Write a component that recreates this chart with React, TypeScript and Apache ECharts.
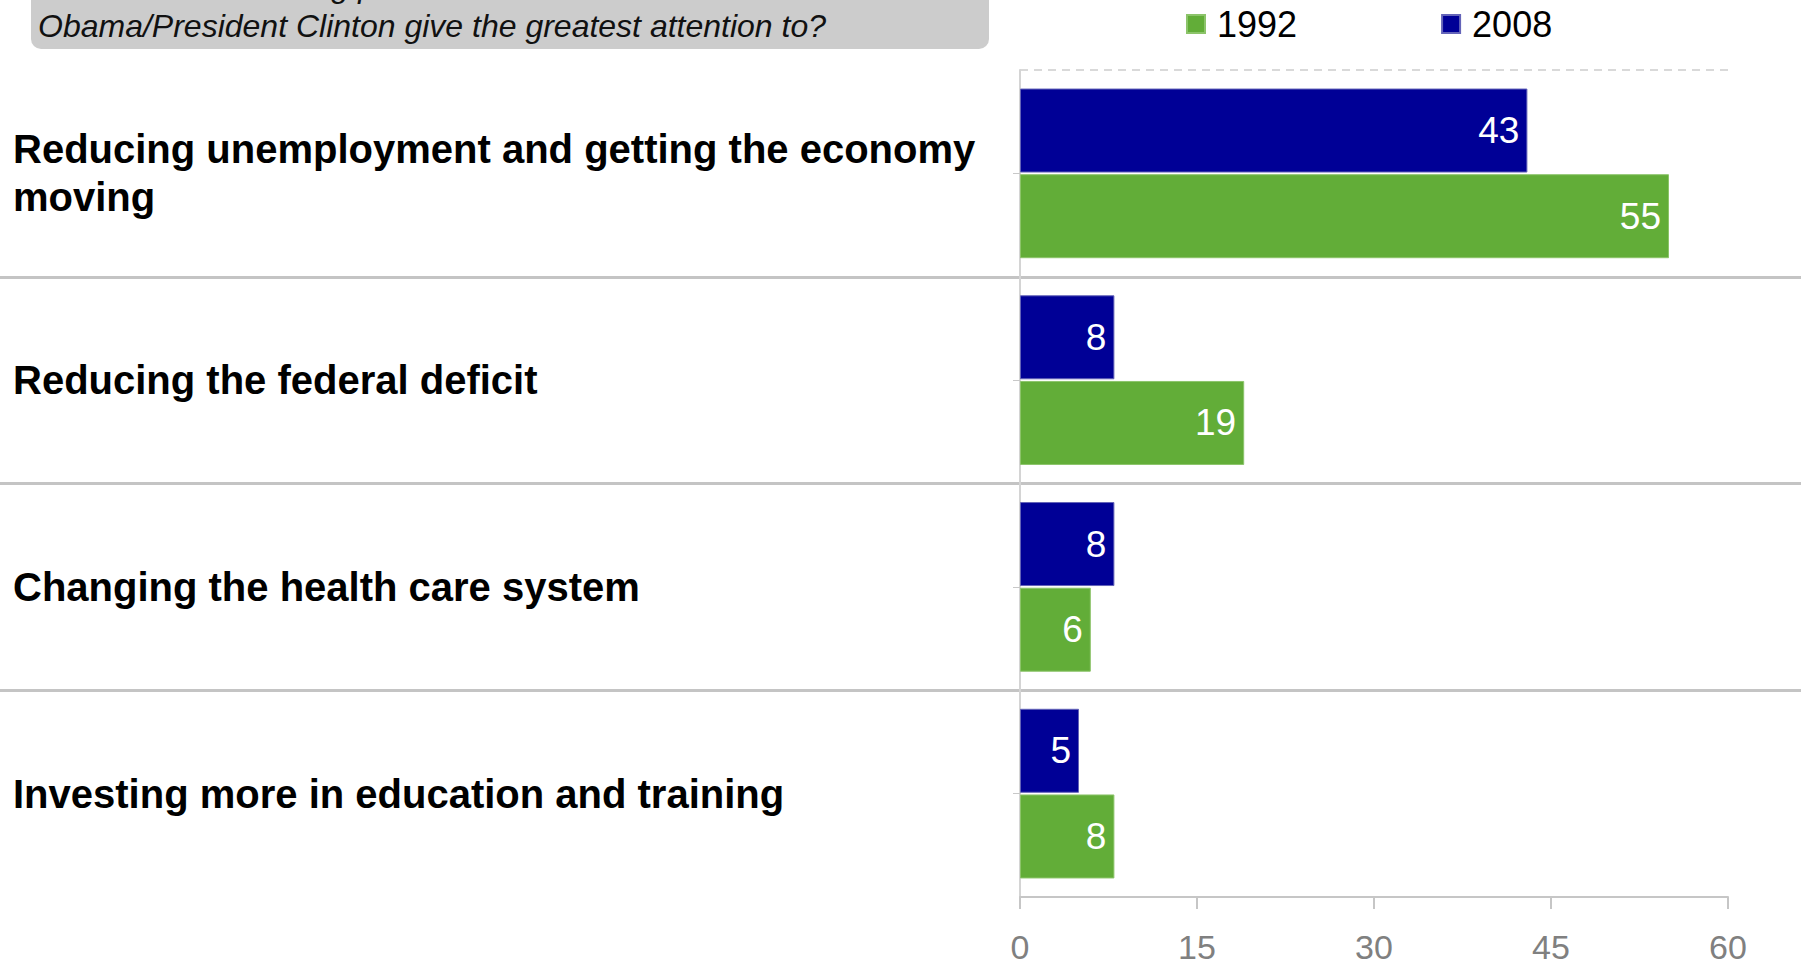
import React, { useEffect, useRef } from 'react';
import * as echarts from 'echarts';

const categories = [
  'Reducing unemployment and getting the economy moving',
  'Reducing the federal deficit',
  'Changing the health care system',
  'Investing more in education and training',
];
const values2008 = [43, 8, 8, 5];
const values1992 = [55, 19, 6, 8];
const xTicks = [0, 15, 30, 45, 60];
const legendNames = ['1992', '2008'];
const questionLines = [
  'Which of the following problems should President',
  'Obama/President Clinton give the greatest attention to?',
];

const FONT = '"Liberation Sans", Arial, Helvetica, sans-serif';
const BLUE = '#000096';
const GREEN = '#62ad38';

export default function App() {
  const ref = useRef<HTMLDivElement>(null);

  useEffect(() => {
    document.body.style.margin = '0';
    const chart = echarts.init(ref.current!, undefined, { renderer: 'svg' });
    const none = 'rgba(0,0,0,0)';
    const option: any = {
      animation: false,
      backgroundColor: '#ffffff',
      textStyle: { fontFamily: FONT },
      graphic: [
        {
          type: 'rect',
          shape: { x: 31, y: -20, width: 958, height: 69, r: 10 },
          style: { fill: '#cccccc' },
          z: 1,
        },
        {
          type: 'text',
          x: 38,
          y: -14,
          z: 2,
          style: {
            text: questionLines[0],
            font: 'italic 32px ' + FONT,
            fill: '#111111',
            verticalAlign: 'middle',
          },
        },
        {
          type: 'text',
          x: 38,
          y: 26,
          z: 2,
          style: {
            text: questionLines[1],
            font: 'italic 32px ' + FONT,
            fill: '#111111',
            verticalAlign: 'middle',
          },
        },
      ],
      legend: {
        data: legendNames,
        left: 1186,
        top: 6,
        itemWidth: 18,
        itemHeight: 18,
        itemGap: 144,
        icon: 'rect',
        padding: 0,
        textStyle: { fontSize: 36, color: '#000', fontFamily: FONT, padding: [0, 0, 0, 7] },
      },
      grid: [
        { left: 1020, right: 81, top: 70, bottom: 68 },
        { left: 0, right: 8, top: 70, bottom: 68 },
      ],
      xAxis: [
        {
          type: 'value',
          min: xTicks[0],
          max: xTicks[xTicks.length - 1],
          interval: xTicks[1] - xTicks[0],
          axisLine: { show: true, lineStyle: { color: '#c6c6c6', width: 2 } },
          axisTick: { show: true, length: 12, lineStyle: { color: '#c6c6c6', width: 2 } },
          axisLabel: { color: '#808080', fontSize: 34, lineHeight: 30, margin: 35, fontFamily: FONT },
          splitLine: { show: false },
        },
        { type: 'value', gridIndex: 1, show: false, min: 0, max: 1 },
      ],
      yAxis: [
        {
          type: 'category',
          data: categories,
          inverse: true,
          axisLine: { show: true, lineStyle: { color: '#d4d4d4', width: 2 } },
          axisTick: { show: true, alignWithLabel: true, length: 7, lineStyle: { color: '#c8c8c8', width: 1 } },
          axisLabel: {
            interval: 0,
            align: 'left',
            margin: 1007,
            fontSize: 40,
            fontWeight: 'bold',
            color: '#000',
            width: 1000,
            overflow: 'break',
            lineHeight: 48,
            fontFamily: FONT,
            padding: [0, 0, 6, 0],
          },
          splitLine: {
            show: true,
            interval: 0,
            lineStyle: { color: ['#d9d9d9', none, none, none, none], type: [8, 6], width: 2 },
          },
        },
        {
          type: 'category',
          gridIndex: 1,
          data: categories,
          inverse: true,
          axisLine: { show: false },
          axisTick: { show: false },
          axisLabel: { show: false },
          splitLine: {
            show: true,
            interval: 0,
            lineStyle: { color: [none, '#c4c4c4', '#c4c4c4', '#c4c4c4', none], width: 3 },
          },
        },
      ],
      series: [
        {
          name: '2008',
          type: 'bar',
          data: values2008,
          barWidth: 84,
          barGap: '2%',
          itemStyle: { color: BLUE, borderColor: '#6464b8', borderWidth: 1 },
          label: {
            show: true,
            position: 'insideRight',
            distance: 8,
            color: '#ffffff',
            fontSize: 37,
            fontFamily: FONT,
            textBorderWidth: 0,
          },
        },
        {
          name: '1992',
          type: 'bar',
          data: values1992,
          barWidth: 84,
          barGap: '2%',
          itemStyle: { color: GREEN, borderColor: '#8cc46a', borderWidth: 1 },
          label: {
            show: true,
            position: 'insideRight',
            distance: 8,
            color: '#ffffff',
            fontSize: 37,
            fontFamily: FONT,
            textBorderWidth: 0,
          },
        },
      ],
    };
    chart.setOption(option);
    return () => chart.dispose();
  }, []);

  return <div ref={ref} style={{ width: 1809, height: 965 }} />;
}
